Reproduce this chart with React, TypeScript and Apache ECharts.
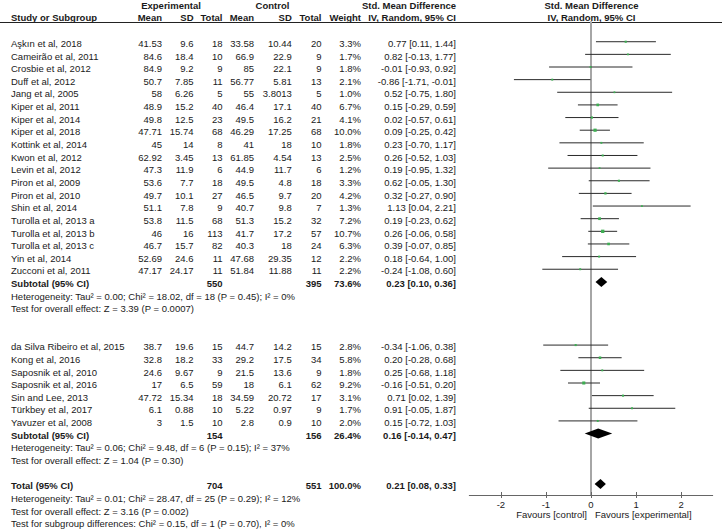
import React, { useEffect, useRef } from "react";
import * as echarts from "echarts";

// ---------- DATA ----------
const group1Names = [
  "Aşkın et al, 2018", "Cameirão et al, 2011", "Crosbie et al, 2012", "Duff et al, 2012",
  "Jang et al, 2005", "Kiper et al, 2011", "Kiper et al, 2014", "Kiper et al, 2018",
  "Kottink et al, 2014", "Kwon et al, 2012", "Levin et al, 2012", "Piron et al, 2009",
  "Piron et al, 2010", "Shin et al, 2014", "Turolla et al, 2013 a", "Turolla et al, 2013 b",
  "Turolla et al, 2013 c", "Yin et al, 2014", "Zucconi et al, 2011",
];
const group1ExpMean = [41.53, 84.6, 84.9, 50.7, 58, 48.9, 49.8, 47.71, 45, 62.92, 47.3, 53.6, 49.7, 51.1, 53.8, 46, 46.7, 52.69, 47.17];
const group1ExpSD = [9.6, 18.4, 9.2, 7.85, 6.26, 15.2, 12.5, 15.74, 14, 3.45, 11.9, 7.7, 10.1, 7.8, 11.5, 16, 15.7, 24.6, 24.17];
const group1ExpN = [18, 10, 9, 11, 5, 40, 23, 68, 8, 13, 6, 18, 27, 9, 68, 113, 82, 11, 11];
const group1CtlMean = [33.58, 66.9, 85, 56.77, 55, 46.4, 49.5, 46.29, 41, 61.85, 44.9, 49.5, 46.5, 40.7, 51.3, 41.7, 40.3, 47.68, 51.84];
const group1CtlSD = [10.44, 22.9, 22.1, 5.81, 3.8013, 17.1, 16.2, 17.25, 18, 4.54, 11.7, 4.8, 9.7, 9.8, 15.2, 17.2, 18, 29.35, 11.88];
const group1CtlN = [20, 9, 9, 13, 5, 40, 21, 68, 10, 13, 6, 18, 20, 7, 32, 57, 24, 12, 11];
const group1Weight = [3.3, 1.7, 1.8, 2.1, 1.0, 6.7, 4.1, 10.0, 1.8, 2.5, 1.2, 3.3, 4.2, 1.3, 7.2, 10.7, 6.3, 2.2, 2.2];
const group1SMD = [0.77, 0.82, -0.01, -0.86, 0.52, 0.15, 0.02, 0.09, 0.23, 0.26, 0.19, 0.62, 0.32, 1.13, 0.19, 0.26, 0.39, 0.18, -0.24];
const group1Lo = [0.11, -0.13, -0.93, -1.71, -0.75, -0.29, -0.57, -0.25, -0.70, -0.52, -0.95, -0.05, -0.27, 0.04, -0.23, -0.06, -0.07, -0.64, -1.08];
const group1Hi = [1.44, 1.77, 0.92, -0.01, 1.80, 0.59, 0.61, 0.42, 1.17, 1.03, 1.32, 1.30, 0.90, 2.21, 0.62, 0.58, 0.85, 1.00, 0.60];

const group2Names = [
  "da Silva Ribeiro et al, 2015", "Kong et al, 2016", "Saposnik et al, 2010", "Saposnik et al, 2016",
  "Sin and Lee, 2013", "Türkbey et al, 2017", "Yavuzer et al, 2008",
];
const group2ExpMean = [38.7, 32.8, 24.6, 17, 47.72, 6.1, 3];
const group2ExpSD = [19.6, 18.2, 9.67, 6.5, 15.34, 0.88, 1.5];
const group2ExpN = [15, 33, 9, 59, 18, 10, 10];
const group2CtlMean = [44.7, 29.2, 21.5, 18, 34.59, 5.22, 2.8];
const group2CtlSD = [14.2, 17.5, 13.6, 6.1, 20.72, 0.97, 0.9];
const group2CtlN = [15, 34, 9, 62, 17, 9, 10];
const group2Weight = [2.8, 5.8, 1.8, 9.2, 3.1, 1.7, 2.0];
const group2SMD = [-0.34, 0.20, 0.25, -0.16, 0.71, 0.91, 0.15];
const group2Lo = [-1.06, -0.28, -0.68, -0.51, 0.02, -0.05, -0.72];
const group2Hi = [0.38, 0.68, 1.18, 0.20, 1.39, 1.87, 1.03];

// pooled estimates: [subgroup 1, subgroup 2, total]
const pooledLabels = ["Subtotal (95% CI)", "Subtotal (95% CI)", "Total (95% CI)"];
const pooledExpN = [550, 154, 704];
const pooledCtlN = [395, 156, 551];
const pooledWeight = [73.6, 26.4, 100.0];
const pooledSMD = [0.23, 0.16, 0.21];
const pooledLo = [0.10, -0.14, 0.08];
const pooledHi = [0.36, 0.47, 0.33];

const hetTexts = [
  ["Heterogeneity: Tau² = 0.00; Chi² = 18.02, df = 18 (P = 0.45); I² = 0%", "Test for overall effect: Z = 3.39 (P = 0.0007)"],
  ["Heterogeneity: Tau² = 0.06; Chi² = 9.48, df = 6 (P = 0.15); I² = 37%", "Test for overall effect: Z = 1.04 (P = 0.30)"],
  ["Heterogeneity: Tau² = 0.01; Chi² = 28.47, df = 25 (P = 0.29); I² = 12%", "Test for overall effect: Z = 3.16 (P = 0.002)", "Test for subgroup differences: Chi² = 0.15, df = 1 (P = 0.70), I² = 0%"],
];

const xTickValues = [-2, -1, 0, 1, 2];
const favourLabels = ["Favours [control]", "Favours [experimental]"];

// ---------- LAYOUT ----------
const FONT = '"Liberation Sans", Arial, Helvetica, sans-serif';
const FS = 9.5;
const ROW_H = 12.64;
const textY = (i: number) => 5.5 + i * ROW_H;
const MARK_Y0 = 3.8;
const GRID_TOP = 22;
const GRID_BOTTOM_Y = 495;
const COLS = { name: 11, expMean: 162, expSD: 193.5, expN: 222.5, ctlMean: 254, ctlSD: 291.8, ctlN: 321.5, weight: 361, ci: 456 };
const TXT = "#1a1a1a";

function txt(x: number, y: number, text: string, align: string, bold = false) {
  return {
    type: "text",
    x,
    y,
    silent: true,
    style: {
      text,
      fill: TXT,
      font: `${bold ? "bold " : ""}${FS}px ${FONT}`,
      align,
      verticalAlign: "middle",
      textAlign: align,
      textVerticalAlign: "middle",
    },
  };
}

const fmtCI = (e: number, l: number, h: number) => `${e.toFixed(2)} [${l.toFixed(2)}, ${h.toFixed(2)}]`;

export default function App() {
  const ref = useRef<HTMLDivElement>(null);
  useEffect(() => {
    document.body.style.margin = "0";
    const chart = echarts.init(ref.current!, null, { renderer: "svg" });

    const groups = [
      { names: group1Names, em: group1ExpMean, es: group1ExpSD, en: group1ExpN, cm: group1CtlMean, cs: group1CtlSD, cn: group1CtlN, w: group1Weight, e: group1SMD, lo: group1Lo, hi: group1Hi, start: 3 },
      { names: group2Names, em: group2ExpMean, es: group2ExpSD, en: group2ExpN, cm: group2CtlMean, cs: group2CtlSD, cn: group2CtlN, w: group2Weight, e: group2SMD, lo: group2Lo, hi: group2Hi, start: 27 },
    ];

    const graphics: any[] = [];
    // headers
    graphics.push(txt(171, 5, "Experimental", "center", true));
    graphics.push(txt(272.5, 5, "Control", "center", true));
    graphics.push(txt(COLS.ci, 5, "Std. Mean Difference", "right", true));
    graphics.push(txt(591.5, 5, "Std. Mean Difference", "center", true));
    graphics.push(txt(COLS.name, 17, "Study or Subgroup", "left", true));
    graphics.push(txt(COLS.expMean, 17, "Mean", "right", true));
    graphics.push(txt(COLS.expSD, 17, "SD", "right", true));
    graphics.push(txt(COLS.expN, 17, "Total", "right", true));
    graphics.push(txt(COLS.ctlMean, 17, "Mean", "right", true));
    graphics.push(txt(COLS.ctlSD, 17, "SD", "right", true));
    graphics.push(txt(COLS.ctlN, 17, "Total", "right", true));
    graphics.push(txt(COLS.weight, 17, "Weight", "right", true));
    graphics.push(txt(COLS.ci, 17, "IV, Random, 95% CI", "right", true));
    graphics.push(txt(591.5, 17, "IV, Random, 95% CI", "center", true));
    graphics.push({
      type: "line",
      silent: true,
      shape: { x1: 0, y1: 22.5, x2: 722, y2: 22.5 },
      style: { stroke: "#222", lineWidth: 1.2 },
    });

    const studyData: number[][] = [];
    const pooledData: number[][] = [];
    const pooledRows = [22, 34, 38];

    groups.forEach((g, gi) => {
      g.names.forEach((n, k) => {
        const r = g.start + k;
        const y = textY(r);
        graphics.push(txt(COLS.name, y, n, "left"));
        graphics.push(txt(COLS.expMean, y, String(g.em[k]), "right"));
        graphics.push(txt(COLS.expSD, y, String(g.es[k]), "right"));
        graphics.push(txt(COLS.expN, y, String(g.en[k]), "right"));
        graphics.push(txt(COLS.ctlMean, y, String(g.cm[k]), "right"));
        graphics.push(txt(COLS.ctlSD, y, String(g.cs[k]), "right"));
        graphics.push(txt(COLS.ctlN, y, String(g.cn[k]), "right"));
        graphics.push(txt(COLS.weight, y, g.w[k].toFixed(1) + "%", "right"));
        graphics.push(txt(COLS.ci, y, fmtCI(g.e[k], g.lo[k], g.hi[k]), "right"));
        studyData.push([r, g.e[k], g.lo[k], g.hi[k], g.w[k]]);
      });
    });

    pooledRows.forEach((r, pi) => {
      const y = textY(r);
      graphics.push(txt(COLS.name, y, pooledLabels[pi], "left", true));
      graphics.push(txt(COLS.expN, y, String(pooledExpN[pi]), "right", true));
      graphics.push(txt(COLS.ctlN, y, String(pooledCtlN[pi]), "right", true));
      graphics.push(txt(COLS.weight, y, pooledWeight[pi].toFixed(1) + "%", "right", true));
      graphics.push(txt(COLS.ci, y, fmtCI(pooledSMD[pi], pooledLo[pi], pooledHi[pi]), "right", true));
      pooledData.push([r, pooledSMD[pi], pooledLo[pi], pooledHi[pi]]);
      hetTexts[pi].forEach((t, j) => {
        graphics.push(txt(COLS.name, textY(r + 1 + j), t, "left"));
      });
    });

    graphics.push(txt(587, 514.5, favourLabels[0], "right"));
    graphics.push(txt(595, 514.5, favourLabels[1], "left"));

    const yMin = (GRID_TOP - MARK_Y0) / ROW_H;
    const yMax = (GRID_BOTTOM_Y - MARK_Y0) / ROW_H;

    chart.setOption({
      animation: false,
      textStyle: { fontFamily: FONT },
      grid: { left: 469.3, right: 723 - 712.7, top: GRID_TOP, bottom: 530 - GRID_BOTTOM_Y, containLabel: false },
      xAxis: [
        {
          type: "value",
          min: -2.7,
          max: 2.7,
          position: "bottom",
          splitLine: { show: false },
          axisLine: { show: true, onZero: false, lineStyle: { color: "#666", width: 1 } },
          axisTick: { show: true, inside: false, length: 3, customValues: xTickValues, lineStyle: { color: "#666" } },
          axisLabel: { show: true, customValues: xTickValues, color: TXT, fontSize: FS, fontFamily: FONT, margin: 4 },
        },
        {
          type: "value",
          min: -2.7,
          max: 2.7,
          position: "bottom",
          offset: 0,
          splitLine: { show: false },
          axisLine: { show: false, onZero: false },
          axisTick: { show: true, inside: true, length: 3, customValues: xTickValues, lineStyle: { color: "#666" } },
          axisLabel: { show: false },
        },
      ],
      yAxis: {
        type: "value",
        min: yMin,
        max: yMax,
        inverse: true,
        splitLine: { show: false },
        axisTick: { show: false },
        axisLabel: { show: false },
        axisLine: { show: true, onZero: true, lineStyle: { color: "#a6a6a6", width: 2 } },
      },
      graphic: graphics,
      series: [
        {
          type: "custom",
          name: "studies",
          xAxisIndex: 0,
          encode: { x: [1, 2, 3], y: 0 },
          data: studyData,
          renderItem: (params: any, api: any) => {
            const row = api.value(0);
            const est = api.value(1);
            const lo = api.value(2);
            const hi = api.value(3);
            const w = api.value(4);
            const p1 = api.coord([lo, row]);
            const p2 = api.coord([hi, row]);
            const pc = api.coord([est, row]);
            const s = 1.6 + w * 0.16;
            return {
              type: "group",
              children: [
                { type: "line", shape: { x1: p1[0], y1: p1[1], x2: p2[0], y2: p2[1] }, style: { stroke: "#2a2a2a", lineWidth: 1 } },
                { type: "rect", shape: { x: pc[0] - s / 2, y: pc[1] - s / 2, width: s, height: s }, style: { fill: "#3dae52" } },
              ],
            };
          },
        },
        {
          type: "custom",
          name: "pooled",
          xAxisIndex: 0,
          encode: { x: [1, 2, 3], y: 0 },
          data: pooledData,
          renderItem: (params: any, api: any) => {
            const row = api.value(0);
            const est = api.value(1);
            const l = api.coord([api.value(2), row]);
            const r = api.coord([api.value(3), row]);
            const c = api.coord([est, row]);
            const h = 5;
            return {
              type: "polygon",
              shape: { points: [[l[0], l[1]], [c[0], c[1] - h], [r[0], r[1]], [c[0], c[1] + h]] },
              style: { fill: "#000" },
            };
          },
        },
      ],
    });
    return () => chart.dispose();
  }, []);
  return <div ref={ref} style={{ width: 723, height: 530 }} />;
}
